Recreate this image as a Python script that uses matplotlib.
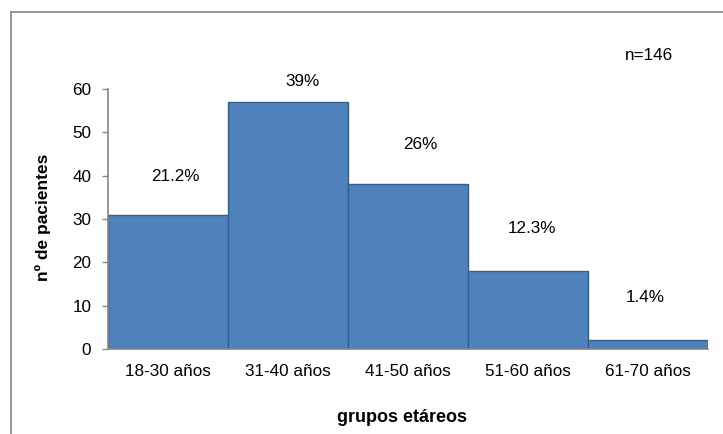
import matplotlib
matplotlib.use("Agg")
import matplotlib.pyplot as plt
from matplotlib.lines import Line2D

plt.rcParams['font.family'] = ['Liberation Sans', 'DejaVu Sans']

categories = ["18-30 años", "31-40 años", "41-50 años", "51-60 años", "61-70 años"]
counts = [31, 57, 38, 18, 2]
percent_labels = ["21.2%", "39%", "26%", "12.3%", "1.4%"]
yticks = [0, 10, 20, 30, 40, 50, 60]

# label placement (manual text boxes in the original)
label_dx = [0.06, 0.125, 0.10, 0.03, -0.02]
label_y = [39.7, 61.8, 47.1, 27.7, 11.8]

fig = plt.figure(figsize=(7.23, 4.34), dpi=100)
ax = fig.add_axes([108/723, 1 - 349/434, 600/723, 260/434])

x = list(range(len(categories)))
ax.bar(x, counts, width=1.0, color="#4F81BD", edgecolor="#385D8A", linewidth=1.0)
ax.set_xlim(-0.5, len(categories) - 0.5)
ax.set_ylim(0, 60)
ax.set_yticks(yticks)
ax.set_xticks(x)
ax.set_xticklabels(categories)

for i, (lab, dx, ly) in enumerate(zip(percent_labels, label_dx, label_y)):
    ax.text(i + dx, ly, lab, ha="center", va="center", fontsize=12.3, color="black", clip_on=False)

gray = "#868686"
for s in ["top", "right"]:
    ax.spines[s].set_visible(False)
ax.spines["left"].set_color(gray)
ax.spines["bottom"].set_color(gray)
ax.spines["left"].set_linewidth(1.2)
ax.spines["bottom"].set_linewidth(1.2)
ax.tick_params(axis="y", direction="out", length=4, width=1, color=gray, pad=8, labelsize=12.3)
ax.tick_params(axis="x", length=0, pad=11, labelsize=12.3)

fig.text(43/723, 1 - 217/434, "nº de pacientes", rotation=90, ha="center", va="center",
         fontsize=12.5, fontweight="bold")
fig.text(402/723, 1 - 418/434, "grupos etáreos", ha="center", va="center",
         fontsize=13, fontweight="bold")
fig.text(649/723, 1 - 55/434, "n=146", ha="center", va="center", fontsize=12.3)

# outer chart frame
fig.add_artist(Line2D([11/723, 11/723], [1 - 12/434, 0], transform=fig.transFigure, color=gray, linewidth=1.2))
fig.add_artist(Line2D([11/723, 1], [1 - 12/434, 1 - 12/434], transform=fig.transFigure, color=gray, linewidth=1.2))

fig.savefig("out.png", dpi=100)
